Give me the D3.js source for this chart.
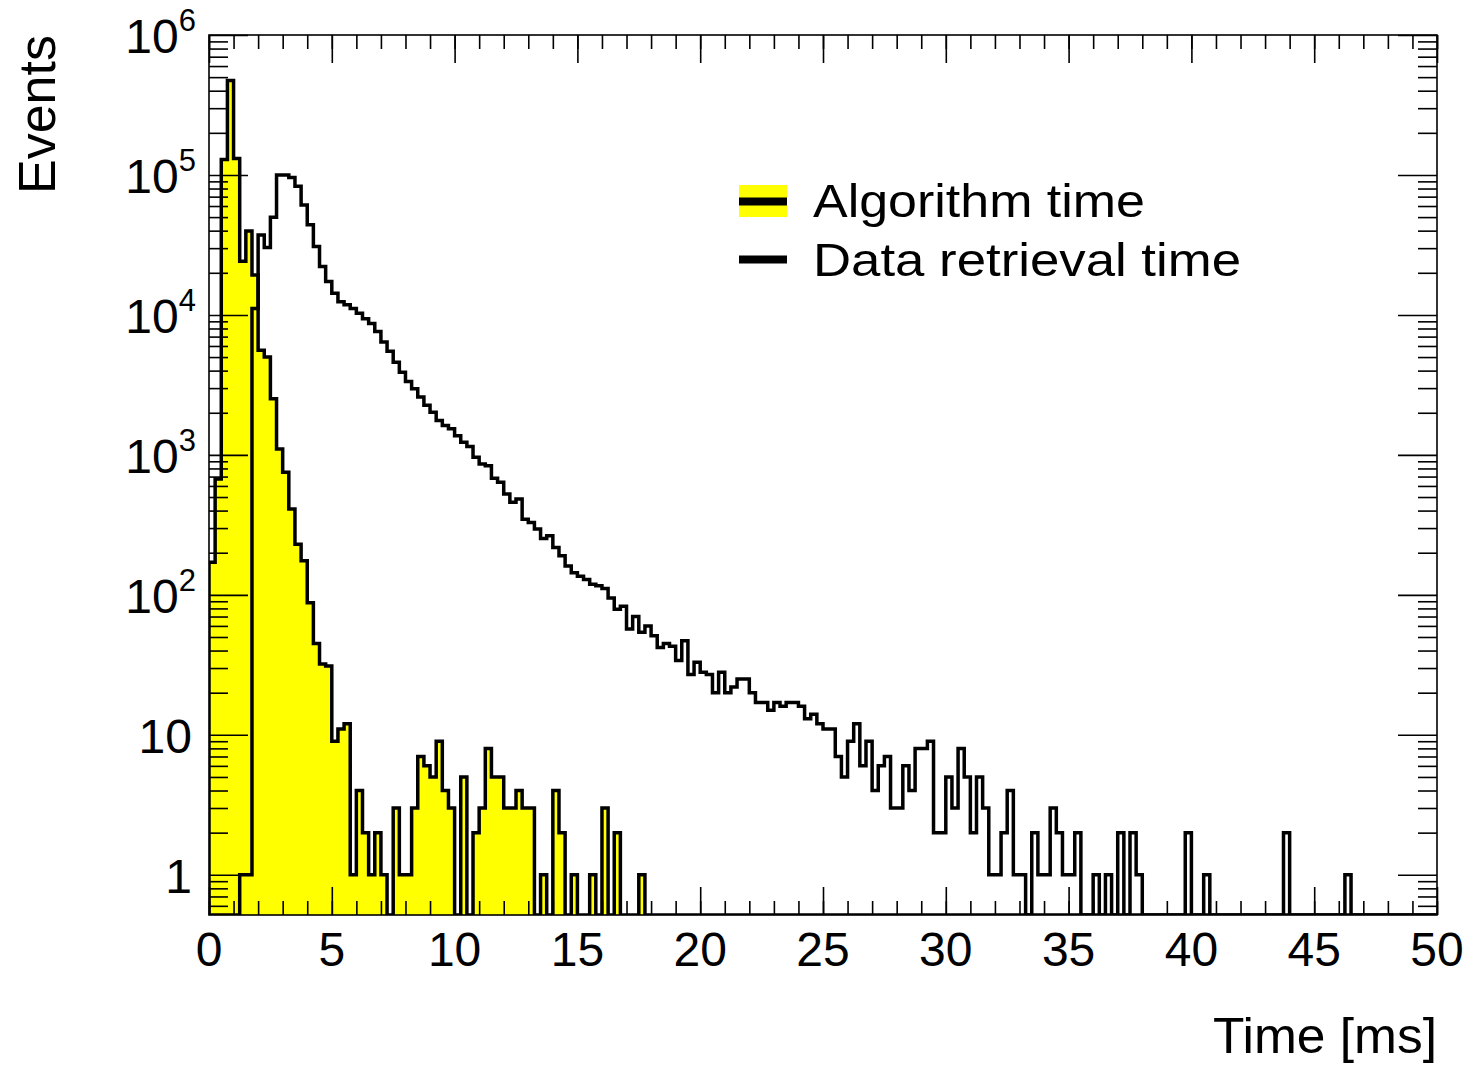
<!DOCTYPE html>
<html>
<head>
<meta charset="utf-8">
<script src="https://cdn.jsdelivr.net/npm/d3@7"></script>
<style>
  body { margin: 0; background: #fff; }
  text { font-family: "Liberation Sans", Arial, Helvetica, sans-serif; fill: #000; }
</style>
</head>
<body>
<svg id="chart" width="1469" height="1066"></svg>
<script>
// histogram binning (ms)
const xMin = 0, xMax = 50, binWidth = 0.25;
const yMin = 0.516, yMax = 1e6;

// Algorithm time, counts per 0.25 ms bin
const algorithmTime = [
  171, 673, 129000, 474000, 131000, 24200, 39700, 19300, 5600, 5000,
  2520, 1100, 751, 410, 230, 175, 88, 45, 32, 31,
  9, 11, 12, 1, 4, 2, 1, 2, 1, 0,
  3, 1, 1, 3, 7, 6, 5, 9, 4, 3,
  0, 5, 0, 2, 3, 8, 5, 5, 3, 3,
  4, 3, 3, 0, 1, 0, 4, 2, 0, 1,
  0, 0, 1, 0, 3, 0, 2, 0, 0, 0,
  1, 0, 0, 0, 0, 0, 0, 0, 0, 0,
  0, 0, 0, 0, 0, 0, 0, 0, 0, 0,
  0, 0, 0, 0, 0, 0, 0, 0, 0, 0,
  0, 0, 0, 0, 0, 0, 0, 0, 0, 0,
  0, 0, 0, 0, 0, 0, 0, 0, 0, 0,
  0, 0, 0, 0, 0, 0, 0, 0, 0, 0,
  0, 0, 0, 0, 0, 0, 0, 0, 0, 0,
  0, 0, 0, 0, 0, 0, 0, 0, 0, 0,
  0, 0, 0, 0, 0, 0, 0, 0, 0, 0,
  0, 0, 0, 0, 0, 0, 0, 0, 0, 0,
  0, 0, 0, 0, 0, 0, 0, 0, 0, 0,
  0, 0, 0, 0, 0, 0, 0, 0, 0, 0,
  0, 0, 0, 0, 0, 0, 0, 0, 0, 0
];

// Data retrieval time, counts per 0.25 ms bin
const retrievalTime = [
  0, 0, 0, 0, 0, 1, 1, 11100, 37300, 30300,
  49800, 100000, 100000, 96000, 83000, 61000, 44000, 30800, 22200, 17300,
  14300, 12400, 11800, 11100, 10300, 9400, 8700, 7600, 6400, 5500,
  4600, 3900, 3350, 2970, 2590, 2260, 2020, 1760, 1620, 1540,
  1370, 1230, 1150, 963, 860, 838, 681, 637, 525, 458,
  484, 347, 329, 295, 253, 264, 218, 190, 161, 144,
  136, 129, 119, 116, 111, 95, 79, 83, 57, 70,
  54, 60, 51, 42, 45, 43, 34, 47, 27, 33,
  28, 27, 20, 28, 20, 22, 25, 25, 20, 17,
  17, 15, 17, 16, 17, 17, 16, 13, 14, 12,
  11, 11, 7, 5, 9, 12, 6, 9, 4, 6,
  7, 3, 3, 6, 4, 8, 8, 9, 2, 2,
  5, 3, 8, 5, 2, 5, 3, 1, 1, 2,
  4, 1, 1, 0, 2, 1, 1, 3, 2, 1,
  1, 2, 0, 0, 1, 0, 1, 0, 2, 0,
  2, 1, 0, 0, 0, 0, 0, 0, 0, 2,
  0, 0, 1, 0, 0, 0, 0, 0, 0, 0,
  0, 0, 0, 0, 0, 2, 0, 0, 0, 0,
  0, 0, 0, 0, 0, 1, 0, 0, 0, 0,
  0, 0, 0, 0, 0, 0, 0, 0, 0, 0
];

const xTickValues = [0, 5, 10, 15, 20, 25, 30, 35, 40, 45, 50];
const xMinorValues = d3.range(0, 51, 1);
const yTickValues = [1, 10, 100, 1000, 10000, 100000, 1000000];
const yTickBase = ["1", "10", "10", "10", "10", "10", "10"];
const yTickExp = ["", "", "2", "3", "4", "5", "6"];

const legendLabels = ["Algorithm time", "Data retrieval time"];

const svg = d3.select('#chart');
const svgWidth = +svg.attr('width');
const svgHeight = +svg.attr('height');
const pad = {t: 35, r: 32, b: 151, l: 209};
const chartW = svgWidth - pad.l - pad.r;
const chartH = svgHeight - pad.t - pad.b;
const bottomY = pad.t + chartH;

const x = d3.scaleLinear().domain([xMin, xMax]).range([pad.l, pad.l + chartW]);
const y = d3.scaleLog().domain([yMin, yMax]).range([bottomY, pad.t]);

function histPoints(counts) {
  let pts = [{t: xMin, v: 0}];
  counts.forEach((c, i) => pts.push({t: xMin + i * binWidth, v: c}));
  pts.push({t: xMin + counts.length * binWidth, v: 0});
  return pts;
}
const yPix = d => d.v > 0 ? y(d.v) : bottomY;

svg.append('defs').append('clipPath').attr('id', 'plotclip')
  .append('rect').attr('x', pad.l).attr('y', pad.t).attr('width', chartW).attr('height', chartH);

let plot = svg.append('g').attr('clip-path', 'url(#plotclip)');

let area = d3.area().curve(d3.curveStepAfter)
  .x(d => x(d.t)).y0(bottomY).y1(yPix);
let line = d3.line().curve(d3.curveStepAfter)
  .x(d => x(d.t)).y(yPix);

let algoPts = histPoints(algorithmTime);
let retrPts = histPoints(retrievalTime);

plot.append('path').attr('d', area(algoPts)).attr('fill', '#ffff00');
plot.append('path').attr('d', line(algoPts))
  .attr('fill', 'none').attr('stroke', '#000').attr('stroke-width', 3.5).attr('stroke-linejoin', 'miter');
plot.append('path').attr('d', line(retrPts))
  .attr('fill', 'none').attr('stroke', '#000').attr('stroke-width', 3.5).attr('stroke-linejoin', 'miter');

// axes: ROOT style, ticks pointing inward on all four sides
let yMinorValues = y.ticks().filter(v => yTickValues.indexOf(v) < 0);

function tickAxis(axisFn, scale, values, size, transform) {
  let g = svg.append('g').attr('transform', transform)
    .call(axisFn(scale).tickValues(values).tickSize(-size).tickSizeOuter(0).tickFormat(''));
  g.select('.domain').remove();
  g.selectAll('line').attr('stroke', '#000').attr('stroke-width', 1.6);
  return g;
}
tickAxis(d3.axisBottom, x, xTickValues, 28, `translate(0,${bottomY})`);
tickAxis(d3.axisBottom, x, xMinorValues, 14, `translate(0,${bottomY})`);
tickAxis(d3.axisTop, x, xTickValues, 28, `translate(0,${pad.t})`);
tickAxis(d3.axisTop, x, xMinorValues, 14, `translate(0,${pad.t})`);
tickAxis(d3.axisLeft, y, yTickValues, 39, `translate(${pad.l},0)`);
tickAxis(d3.axisLeft, y, yMinorValues, 19, `translate(${pad.l},0)`);
tickAxis(d3.axisRight, y, yTickValues, 39, `translate(${pad.l + chartW},0)`);
tickAxis(d3.axisRight, y, yMinorValues, 19, `translate(${pad.l + chartW},0)`);

svg.append('rect')
  .attr('x', pad.l).attr('y', pad.t).attr('width', chartW).attr('height', chartH)
  .attr('fill', 'none').attr('stroke', '#000').attr('stroke-width', 1.6);

// x tick labels
svg.append('g').selectAll('text').data(xTickValues).enter()
  .append('text')
  .attr('x', d => x(d))
  .attr('y', bottomY + 51)
  .attr('text-anchor', 'middle')
  .attr('font-size', 48)
  .text(d => d);

// y tick labels with superscript exponents
let yLab = svg.append('g').selectAll('text').data(yTickValues).enter()
  .append('text')
  .attr('x', (d, i) => yTickExp[i] ? 196 : 192)
  .attr('y', d => y(d) + 18)
  .attr('text-anchor', 'end')
  .attr('font-size', 48);
yLab.append('tspan').text((d, i) => yTickBase[i]);
yLab.append('tspan')
  .attr('dy', -22)
  .attr('font-size', 31)
  .text((d, i) => yTickExp[i]);

// axis titles
svg.append('text')
  .attr('x', pad.l + chartW)
  .attr('y', 1053)
  .attr('text-anchor', 'end')
  .attr('font-size', 50)
  .attr('textLength', 224)
  .attr('lengthAdjust', 'spacingAndGlyphs')
  .text('Time [ms]');

svg.append('text')
  .attr('transform', `translate(55,${pad.t}) rotate(-90)`)
  .attr('text-anchor', 'end')
  .attr('font-size', 52)
  .text('Events');

// legend
let legend = svg.append('g');
legend.append('rect')
  .attr('x', 739).attr('y', 185).attr('width', 48).attr('height', 32)
  .attr('fill', '#ffff00');
legend.append('line')
  .attr('x1', 739).attr('x2', 787).attr('y1', 201.5).attr('y2', 201.5)
  .attr('stroke', '#000').attr('stroke-width', 8);
legend.append('line')
  .attr('x1', 739).attr('x2', 787).attr('y1', 259.5).attr('y2', 259.5)
  .attr('stroke', '#000').attr('stroke-width', 8);

legend.selectAll('text.lab').data(legendLabels).enter()
  .append('text')
  .attr('class', 'lab')
  .attr('x', 813)
  .attr('y', (d, i) => 217 + i * 59)
  .attr('font-size', 46)
  .attr('textLength', (d, i) => i ? 428 : 332)
  .attr('lengthAdjust', 'spacingAndGlyphs')
  .text(d => d);
</script>
</body>
</html>
